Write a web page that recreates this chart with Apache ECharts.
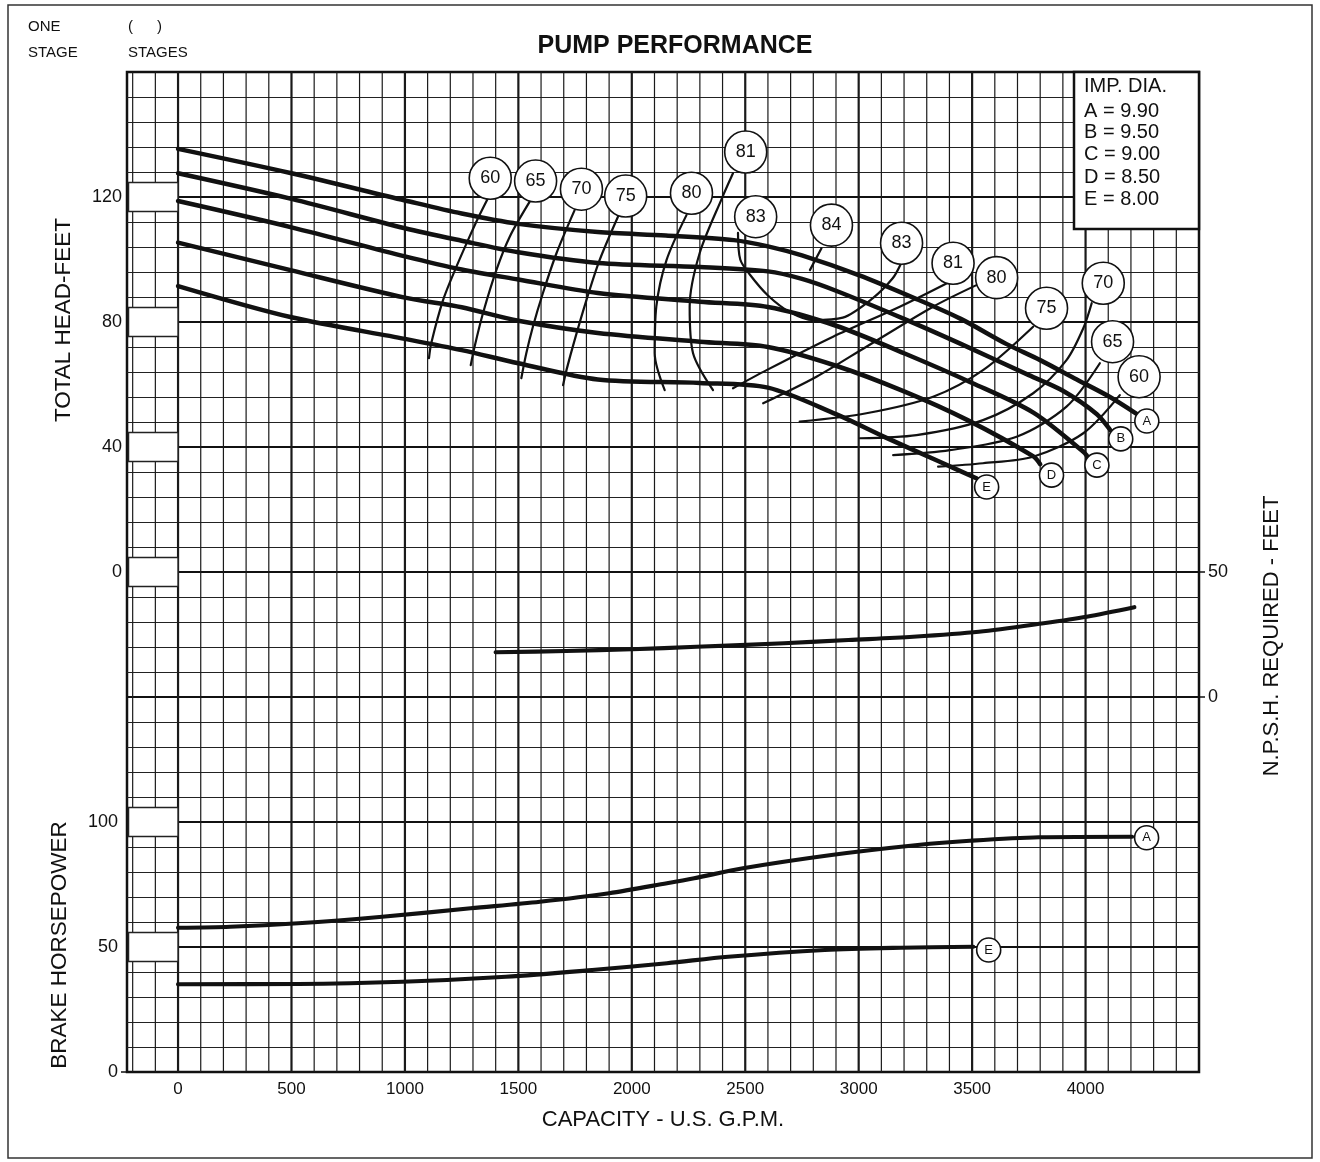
<!DOCTYPE html>
<html>
<head>
<meta charset="utf-8">
<script src="https://cdn.jsdelivr.net/npm/echarts@6/dist/echarts.min.js"></script>
<style>html,body{margin:0;padding:0;background:#fff}#c{width:1320px;height:1162px}</style>
</head>
<body>
<div id="c"></div>
<script>
// ---------- tick labels ----------
const xTickLabels = [0, 500, 1000, 1500, 2000, 2500, 3000, 3500, 4000];
const headTickLabels = [0, 40, 80, 120];
const npshTickLabels = [0, 50];
const bhpTickLabels = [0, 50, 100];
const bhpBoxTicks = [50, 100];

// ---------- impeller legend ----------
const diameterCodes = ['A', 'B', 'C', 'D', 'E'];
const diameterValues = ['9.90', '9.50', '9.00', '8.50', '8.00'];

// ---------- head curves [GPM, feet] ----------
const headA = [[0,135.4],[500,127.6],[1000,118.9],[1250,114.7],[1500,111.4],[1850,108.8],[2150,107.7],[2450,106.2],[2600,104.2],[2750,101.3],[3000,95],[3250,87.5],[3450,81],[3650,73],[3800,67.8],[3950,62],[4100,56.3],[4225,50.6]];
const headB = [[0,127.6],[500,119.4],[1000,110],[1250,106],[1500,102.3],[1850,98.9],[2300,97.6],[2600,96.2],[2750,93.8],[2900,90],[3200,81],[3450,73],[3750,63],[3900,58],[4050,50.5],[4110,45.3]];
const headC = [[0,118.7],[500,110.3],[1000,101],[1250,96.8],[1500,93.6],[1850,89.3],[2300,86.5],[2600,84.8],[2900,78.8],[3200,70],[3500,60.5],[3770,51],[3990,38.5],[4006,37.2]];
const headD = [[0,105.4],[500,96.5],[1000,87.8],[1250,84.7],[1500,80.4],[1850,76.5],[2300,73.7],[2600,72],[2900,66],[3200,57.8],[3480,48.6],[3770,37],[3800,34.5]];
const headE = [[0,91.5],[500,81.5],[1000,74.6],[1250,71],[1500,66.8],[1850,61.6],[2300,60.5],[2600,59],[2900,50.5],[3120,43],[3350,35.5],[3521,29.9]];

// ---------- efficiency curves [GPM, feet] ----------
const eff60L = [[1366,119.6],[1322,113.2],[1278,106.2],[1227,97.7],[1168,87],[1116,73.2],[1106,68.4]];
const eff65L = [[1550,118.5],[1462,107.3],[1403,96.6],[1344,82.8],[1307,72.1],[1290,66.2]];
const eff70L = [[1748,115.8],[1668,102],[1608,89.2],[1564,78.5],[1535,70],[1513,62]];
const eff75L = [[1939,113.7],[1858,99.8],[1800,87],[1748,74.2],[1712,64.6],[1697,59.8]];
const eff80L = [[2241,114.2],[2153,99.8],[2108,84.9],[2101,70],[2145,58.2]];
const eff81L = [[2446,127.6],[2399,119.9],[2299,102],[2255,84.9],[2270,70],[2358,58.2]];
const eff83Loop = [[2468,108.5],[2478,100],[2520,95.2],[2600,88.5],[2700,83],[2800,80.6],[2930,81.4],[3060,87.5],[3150,94],[3185,98.5]];
const eff84 = [[2836,103.6],[2785,96.6]];
const eff81R = [[3402,92.9],[3181,84.9],[2887,75.3],[2594,64.6],[2446,58.8]];
const eff80R = [[3519,91.8],[3328,84.9],[3034,72.1],[2814,62.5],[2579,54]];
const eff75R = [[3769,78.5],[3548,64.6],[3328,56.1],[3034,50.8],[2740,48.1]];
const eff70R = [[4027,86],[3990,78],[3916,67.8],[3769,57.2],[3548,48.6],[3255,43.8],[3005,42.8]];
const eff65R = [[4063,66.8],[3916,52.9],[3696,43.3],[3402,39],[3152,37.4]];
const eff60R = [[4151,56.6],[3990,44.4],[3769,36.9],[3548,34.8],[3350,33.7]];

// ---------- efficiency label bubbles [GPM, feet, text] ----------
const effLabels = [[1376,126,'60'],[1576,125.1,'65'],[1778,122.5,'70'],[1973,120.3,'75'],[2263,121.2,'80'],[2502,134.4,'81'],[2546,113.7,'83'],[2880,111,'84'],[3189,105.2,'83'],[3416,98.8,'81'],[3608,94.2,'80'],[3828,84.4,'75'],[4078,92.4,'70'],[4119,73.7,'65'],[4236,62.5,'60']];
const headLetters = [[4270,48.3,'A'],[4155,42.6,'B'],[4050,34.2,'C'],[3850,31,'D'],[3564,27.2,'E']];

// ---------- NPSH required [GPM, feet] ----------
const npsh = [[1400,17.9],[1710,18.4],[2000,19.1],[2285,20.1],[2670,21.5],[2955,22.8],[3240,24.1],[3530,26.1],[3815,29.5],[4005,32.1],[4215,35.9]];

// ---------- brake horsepower [GPM, hp] ----------
const bhpA = [[0,57.7],[230,58.1],[530,59.5],[900,62.1],[1290,65.5],[1595,68.1],[1900,71.5],[2155,75.5],[2275,77.5],[2490,81.5],[2880,86.8],[3260,90.8],[3490,92.5],[3795,93.9],[4205,94.1]];
const bhpE = [[0,35.1],[530,35.2],[990,36.1],[1445,38.1],[1825,40.8],[2155,43.5],[2425,46.1],[2850,48.8],[3185,49.7],[3505,50.1]];
const bhpLetters = [[4269,93.7,'A'],[3573,48.8,'E']];

// ---------- axis extents ----------
const X_MIN = -225, X_MAX = 4500;
const HEAD_MIN = -160, HEAD_MAX = 160;
const NPSH_MIN = -150, NPSH_MAX = 250;
const BHP_MIN = 0, BHP_MAX = 400;

const FONT = '"Liberation Sans", Arial, Helvetica, sans-serif';
const INK = '#111';

const gridX = [];
for (let v = -200; v < X_MAX; v += 100) gridX.push(v);

const chart = echarts.init(document.getElementById('c'), null, {renderer: 'canvas'});

function lineSeries(name, data, yIdx, width, z) {
  return {
    type: 'line', name: name, data: data, yAxisIndex: yIdx, z: z,
    smooth: 0.3, symbol: 'none', silent: true,
    lineStyle: {color: INK, width: width, cap: 'round', join: 'round'}
  };
}

function bubbleSeries(data, yIdx, size, fontSize) {
  return {
    type: 'scatter', yAxisIndex: yIdx, z: 6, silent: true,
    symbol: 'circle', symbolSize: size,
    itemStyle: {color: '#fff', borderColor: INK, borderWidth: 1.6, opacity: 1},
    label: {show: true, position: 'inside', formatter: '{b}', color: INK, fontSize: fontSize, fontFamily: FONT},
    data: data.map(d => ({name: d[2], value: [d[0], d[1]]}))
  };
}

function boxSeries(ticks, yIdx) {
  return {
    type: 'custom', yAxisIndex: yIdx, z: 2, silent: true,
    data: ticks.map(v => [X_MIN, v]),
    encode: {x: 0, y: 1},
    renderItem: function (params, api) {
      const p = api.coord([X_MIN, api.value(1)]);
      const q = api.coord([0, api.value(1)]);
      return {
        type: 'rect',
        shape: {x: p[0] + 1.5, y: p[1] - 14.5, width: q[0] - p[0] - 1.5, height: 29},
        style: {fill: '#fff', stroke: '#222', lineWidth: 1.5}
      };
    }
  };
}

const effSets = [eff60L, eff65L, eff70L, eff75L, eff80L, eff81L, eff83Loop, eff84, eff81R, eff80R, eff75R, eff70R, eff65R, eff60R];

const series = [
  {
    type: 'custom', name: 'gridX', yAxisIndex: 0, z: 1, silent: true,
    data: gridX.map(v => [v, 0]),
    encode: {x: 0, y: 1},
    renderItem: function (params, api) {
      const v = api.value(0);
      const p1 = api.coord([v, HEAD_MAX]);
      const p2 = api.coord([v, HEAD_MIN]);
      const major = (v % 500 === 0);
      return {type: 'line', shape: {x1: p1[0], y1: p1[1], x2: p2[0], y2: p2[1]},
        style: {stroke: '#1a1a1a', lineWidth: major ? 2.2 : 1.2}};
    }
  },
  boxSeries(headTickLabels, 0),
  boxSeries(bhpBoxTicks, 2),
  lineSeries('A', headA, 0, 4.5, 4),
  lineSeries('B', headB, 0, 4.5, 4),
  lineSeries('C', headC, 0, 4.5, 4),
  lineSeries('D', headD, 0, 4.5, 4),
  lineSeries('E', headE, 0, 4.5, 4)
];
effSets.forEach((d, i) => series.push(lineSeries('eff' + i, d, 0, 2.2, 3)));
series.push(lineSeries('NPSH', npsh, 1, 4.2, 4));
series.push(lineSeries('BHP A', bhpA, 2, 4.2, 4));
series.push(lineSeries('BHP E', bhpE, 2, 4.2, 4));
series.push(bubbleSeries(effLabels, 0, 42, 18));
series.push(bubbleSeries(headLetters, 0, 24, 13));
series.push(bubbleSeries(bhpLetters, 2, 24, 13));

function txt(x, y, text, size, opts) {
  opts = opts || {};
  return {
    type: 'text', x: x, y: y, rotation: opts.rotation || 0, z: 120, silent: true,
    style: {
      text: text, fill: INK,
      font: (opts.bold ? 'bold ' : '') + size + 'px ' + FONT,
      textAlign: opts.align || 'left', textVerticalAlign: 'middle',
      align: opts.align || 'left', verticalAlign: 'middle'
    }
  };
}

const LEG_X = 1074, LEG_Y = 72;
const graphic = [
  {type: 'rect', z: 110, silent: true, shape: {x: 8, y: 5, width: 1304, height: 1153}, style: {fill: 'none', stroke: '#333', lineWidth: 1.5}},
  txt(28, 27, 'ONE', 15),
  txt(28, 53, 'STAGE', 15),
  txt(128, 27, '(', 15),
  txt(157, 27, ')', 15),
  txt(128, 53, 'STAGES', 15),
  txt(675, 46, 'PUMP PERFORMANCE', 25, {bold: true, align: 'center'}),
  txt(64, 320, 'TOTAL HEAD-FEET', 22.5, {align: 'center', rotation: Math.PI / 2}),
  txt(60, 945, 'BRAKE HORSEPOWER', 22.5, {align: 'center', rotation: Math.PI / 2}),
  txt(1272, 636, 'N.P.S.H. REQUIRED - FEET', 22, {align: 'center', rotation: Math.PI / 2}),
  {type: 'rect', z: 115, silent: true, shape: {x: LEG_X, y: LEG_Y, width: 125, height: 157}, style: {fill: '#fff', stroke: INK, lineWidth: 2.5}},
  txt(LEG_X + 10, LEG_Y + 14, 'IMP. DIA.', 20)
];
const legendRows = [39, 60, 82, 105, 127];
diameterCodes.forEach((c, i) => graphic.push(txt(LEG_X + 10, LEG_Y + legendRows[i], c + ' = ' + diameterValues[i], 20)));

const labelStyle = {color: INK, fontFamily: FONT};

const option = {
  animation: false,
  backgroundColor: '#fff',
  grid: {left: 127, top: 72, width: 1072, height: 1000, show: true, borderColor: INK, borderWidth: 2.5, backgroundColor: 'transparent', containLabel: false},
  xAxis: {
    type: 'value', min: X_MIN, max: X_MAX, interval: 25,
    axisLine: {show: false}, axisTick: {show: false}, splitLine: {show: false},
    axisLabel: Object.assign({fontSize: 17, margin: 9, formatter: v => xTickLabels.includes(v) ? String(v) : ''}, labelStyle),
    name: 'CAPACITY - U.S. G.P.M.', nameLocation: 'middle', nameGap: 37,
    nameTextStyle: {fontSize: 22, color: INK, fontFamily: FONT}
  },
  yAxis: [
    {
      type: 'value', position: 'left', min: HEAD_MIN, max: HEAD_MAX, interval: 8,
      axisLine: {show: false}, axisTick: {show: false},
      axisLabel: Object.assign({fontSize: 18, margin: 5, formatter: v => headTickLabels.includes(v) ? String(v) : ''}, labelStyle),
      splitLine: {show: true, lineStyle: {color: '#222', width: 1.2}}
    },
    {
      type: 'value', position: 'right', min: NPSH_MIN, max: NPSH_MAX, interval: 10,
      axisLine: {show: false},
      axisTick: {show: true, length: 6, customValues: npshTickLabels, lineStyle: {color: INK, width: 1.5}},
      axisLabel: Object.assign({fontSize: 18, margin: 9, formatter: v => npshTickLabels.includes(v) ? String(v) : ''}, labelStyle),
      splitLine: {show: false}
    },
    {
      type: 'value', position: 'left', min: BHP_MIN, max: BHP_MAX, interval: 10,
      axisLine: {show: false},
      axisTick: {show: true, length: 6, customValues: [0], lineStyle: {color: INK, width: 1.5}},
      axisLabel: Object.assign({fontSize: 18, margin: 9, formatter: v => bhpTickLabels.includes(v) ? String(v) : ''}, labelStyle),
      splitLine: {show: false}
    },
    {
      type: 'value', position: 'left', min: HEAD_MIN, max: HEAD_MAX, interval: 40,
      axisLine: {show: false}, axisTick: {show: false}, axisLabel: {show: false},
      splitLine: {show: true, lineStyle: {color: INK, width: 2.2}}
    }
  ],
  series: series,
  graphic: graphic
};

chart.setOption(option);
</script>
</body>
</html>
